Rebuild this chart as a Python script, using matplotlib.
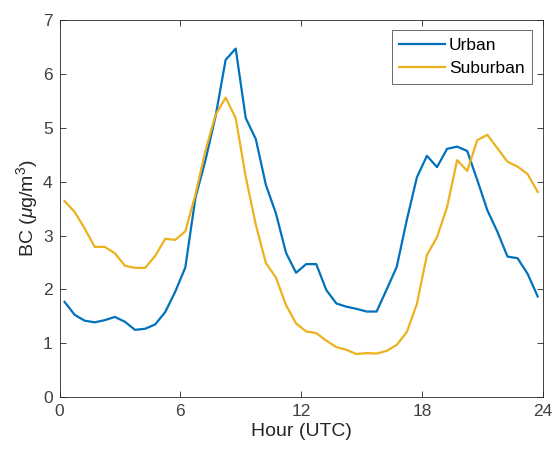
import matplotlib
matplotlib.use("Agg")
import matplotlib.pyplot as plt
import numpy as np

plt.rcParams['font.family'] = ['Liberation Sans', 'DejaVu Sans']
plt.rcParams['mathtext.fontset'] = 'custom'
plt.rcParams['mathtext.rm'] = 'Liberation Sans'
plt.rcParams['mathtext.it'] = 'Liberation Sans:italic'

# half-hourly means, centred on each half hour
hours = np.arange(0.25, 24, 0.5)

urban = [1.77, 1.53, 1.42, 1.39, 1.43, 1.49, 1.40, 1.25, 1.27, 1.35,
         1.58, 1.96, 2.41, 3.70, 4.40, 5.21, 6.26, 6.47, 5.18, 4.79,
         3.94, 3.41, 2.68, 2.31, 2.47, 2.47, 1.99, 1.74, 1.68, 1.64,
         1.59, 1.59, 2.00, 2.42, 3.29, 4.08, 4.48, 4.27, 4.61, 4.65,
         4.57, 4.03, 3.47, 3.07, 2.61, 2.58, 2.29, 1.87]

suburban = [3.64, 3.44, 3.13, 2.79, 2.79, 2.67, 2.44, 2.40, 2.40, 2.62,
            2.94, 2.92, 3.08, 3.76, 4.58, 5.24, 5.56, 5.18, 4.09, 3.20,
            2.49, 2.22, 1.71, 1.37, 1.22, 1.19, 1.05, 0.93, 0.88, 0.80,
            0.82, 0.81, 0.86, 0.97, 1.21, 1.73, 2.64, 2.97, 3.53, 4.40,
            4.20, 4.77, 4.87, 4.62, 4.37, 4.28, 4.14, 3.81]

x_ticks = [0, 6, 12, 18, 24]
y_ticks = [0, 1, 2, 3, 4, 5, 6, 7]

axis_color = '#262626'
tick_text = '#404040'

fig = plt.figure(figsize=(5.53, 4.55), dpi=100)
ax = fig.add_axes([0.1076, 0.127, 0.8738, 0.829])

ax.plot(hours, urban, color='#0072BD', lw=1.6, label='Urban')
ax.plot(hours, suburban, color='#EDB120', lw=1.6, label='Suburban')

ax.set_xlim(0, 24)
ax.set_ylim(0, 7)
ax.set_xticks(x_ticks)
ax.set_yticks(y_ticks)

ax.tick_params(direction='in', top=True, right=True, length=4, width=0.6,
               colors=axis_color, labelcolor=tick_text, labelsize=12.5, pad=5)
for s in ax.spines.values():
    s.set_color(axis_color)
    s.set_linewidth(0.6)

ax.set_xlabel('Hour (UTC)', fontsize=14, color=axis_color, labelpad=3)
ax.set_ylabel(r'BC ($\mu$g/m$^3$)', fontsize=14, color=axis_color, labelpad=2)

leg = ax.legend(loc='upper right', fontsize=12.5, fancybox=False,
                edgecolor=axis_color, handlelength=2.6, borderpad=0.45,
                labelspacing=0.45, handletextpad=0.25, borderaxespad=0.6)
leg.get_frame().set_linewidth(0.6)

fig.savefig('out.png', dpi=100)
